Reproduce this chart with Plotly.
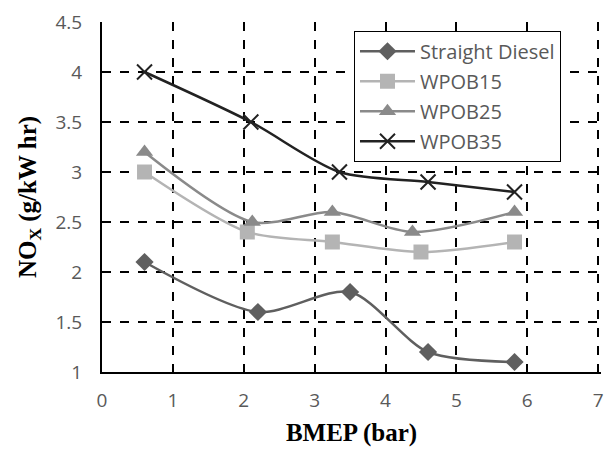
import plotly.graph_objects as go

diesel_x = [0.6, 2.2, 3.5, 4.6, 5.82]
diesel_y = [2.1, 1.6, 1.8, 1.2, 1.1]
w15_x = [0.6, 2.05, 3.25, 4.5, 5.82]
w15_y = [3.0, 2.4, 2.3, 2.2, 2.3]
w25_x = [0.6, 2.12, 3.25, 4.38, 5.82]
w25_y = [3.2, 2.5, 2.6, 2.4, 2.6]
w35_x = [0.6, 2.1, 3.35, 4.6, 5.82]
w35_y = [4.0, 3.5, 3.0, 2.9, 2.8]

fig = go.Figure()
series = [
    ("Straight Diesel", diesel_x, diesel_y, "#5f5f5f", "diamond", 14),
    ("WPOB15", w15_x, w15_y, "#b4b4b4", "square", 15),
    ("WPOB25", w25_x, w25_y, "#8a8a8a", "triangle-up", 15),
    ("WPOB35", w35_x, w35_y, "#222222", "x-thin", 15),
]
for i, (name, xs, ys, col, sym, sz) in enumerate(series):
    marker = dict(symbol=sym, size=sz, color=col)
    if sym == "x-thin":
        marker["line"] = dict(color=col, width=2)
    fig.add_trace(go.Scatter(x=xs, y=ys, name=name, mode="lines+markers",
                             legendgroup="g%d" % i,
                             line=dict(color=col, width=2.5, shape="spline", smoothing=0.8),
                             marker=marker))

fig.update_layout(
    width=605, height=455,
    margin=dict(l=102, r=1, t=22, b=83),
    paper_bgcolor="white", plot_bgcolor="white",
    font=dict(family="Open Sans, Liberation Sans, sans-serif", size=19, color="#595959"),
    legend=dict(x=0.505, y=0.975, xanchor="left", yanchor="top",
                bordercolor="black", borderwidth=1, bgcolor="white",
                font=dict(size=20, color="#595959"), tracegroupgap=1,
                itemwidth=55),
    xaxis=dict(range=[0, 7.04], dtick=1, tick0=0,
               showgrid=True, gridcolor="black", ticklabeloverflow="allow",
               griddash="dash", gridwidth=1.5, showline=True, linecolor="black",
               linewidth=2, zeroline=False, ticks="", ticklabelstandoff=10,
               title=dict(text="<b>BMEP (bar)</b>", font=dict(family="Liberation Serif, serif",
                          size=25, color="black"), standoff=12)),
    yaxis=dict(range=[1, 4.5], dtick=0.5, tick0=1, showgrid=True, gridcolor="black",
               griddash="dash", gridwidth=1.5, showline=True, linecolor="black",
               linewidth=2, zeroline=False, ticks="", ticklabelstandoff=14,
               title=dict(text="<b>NO<sub>X</sub> (g/kW hr)</b>", font=dict(family="Liberation Serif, serif",
                          size=25, color="black"), standoff=12)),
)
fig.write_html("out.html", config={"displayModeBar": False},
               post_script="document.body.style.margin='0px';")
